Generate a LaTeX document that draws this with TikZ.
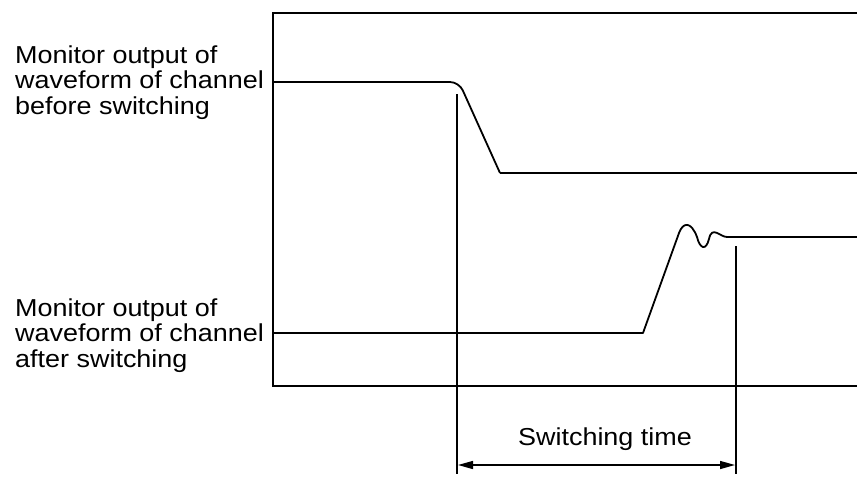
\documentclass[tikz,border=0pt]{standalone}
\usepackage{fontspec}
\setmainfont{Liberation Sans}[FakeStretch=1.1]
\usetikzlibrary{arrows.meta}
\begin{document}
\begin{tikzpicture}[x=1pt,y=-1pt,
  frame/.style={line width=1.8pt, line cap=rect},
  wave/.style={line width=1.8pt, line join=round},
  marker/.style={line width=1.5pt},
  label/.style={align=left, anchor=base west, inner sep=0pt,
    font=\fontsize{24.5}{25.5}\selectfont},
  dim/.style={line width=1.4pt, {Triangle[length=15pt,width=8pt]}-{Triangle[length=15pt,width=8pt]}}]
\useasboundingbox (0,0) rectangle (857,477);
% frame
\coordinate (ftr) at (857,13);
\coordinate (ftl) at (273,13);
\coordinate (fbl) at (273,386);
\coordinate (fbr) at (857,386);
\draw[frame] (ftr) -- (ftl) -- (fbl) -- (fbr);
% labels (anchor is the baseline of the last line)
\node[label] (lbefore) at (15,114) {Monitor output of\\waveform of channel\\before switching};
\node[label] (lafter) at (15,367) {Monitor output of\\waveform of channel\\after switching};
% waveform before switching
\coordinate (w1a) at (273,82);
\coordinate (w1b) at (459,82);
\coordinate (w1c) at (500,173);
\coordinate (w1d) at (857,173);
\draw[wave, rounded corners=9pt] (w1a) -- (w1b) -- (w1c);
\draw[wave] (w1c) -- (w1d);
% waveform after switching
\coordinate (w2a) at (273,333);
\coordinate (w2b) at (643,333);
\coordinate (w2c) at (679,233);
\coordinate (w2d) at (727,237);
\coordinate (w2e) at (857,237);
\draw[wave] (w2a) -- (w2b) -- (w2c)
  .. controls (683,222) and (691,221) .. (697,237)
  .. controls (700,249) and (706,251) .. (709,239)
  .. controls (712,225) and (720,237) .. (w2d) -- (w2e);
% switching time markers
\coordinate (m1t) at (457,94);
\coordinate (m1b) at (457,474);
\coordinate (m2t) at (736,246);
\coordinate (m2b) at (736,474);
\draw[marker] (m1t) -- (m1b);
\draw[marker] (m2t) -- (m2b);
\coordinate (sa) at (458,465);
\coordinate (sb) at (735,465);
\draw[dim] (sa) -- (sb);
\node[label, anchor=base] (stime) at (605,445) {Switching time};
\end{tikzpicture}
\end{document}
